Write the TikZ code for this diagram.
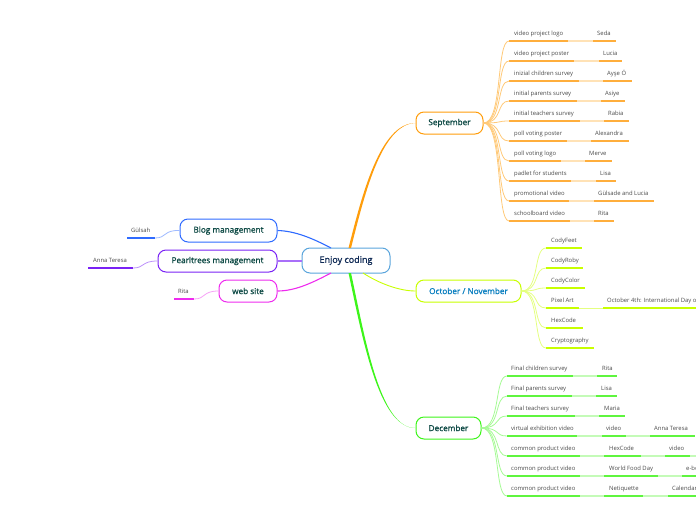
\documentclass[tikz,border=0pt]{standalone}
\usepackage{fontspec}
\setmainfont{Open Sans}
\newfontfamily\semif[FakeBold=1.2]{Open Sans}
\definecolor{orgA}{HTML}{FFAE3C}
\definecolor{orgM}{HTML}{FF9D0B}
\definecolor{orgL}{HTML}{FFC978}
\definecolor{orgP}{HTML}{FFE2B6}
\definecolor{yelA}{HTML}{C8FF00}
\definecolor{yelL}{HTML}{E4FF80}
\definecolor{grnA}{HTML}{5FF53F}
\definecolor{grnM}{HTML}{3DF51A}
\definecolor{grnL}{HTML}{A6FA95}
\definecolor{grnP}{HTML}{C4FBB8}
\definecolor{bluA}{HTML}{2F6BFF}
\definecolor{bluL}{HTML}{A0BBFF}
\definecolor{purA}{HTML}{7A22F5}
\definecolor{purL}{HTML}{BC90FA}
\definecolor{magA}{HTML}{EE2BEE}
\definecolor{magL}{HTML}{F6A0F6}
\definecolor{rootC}{HTML}{5AA5DC}
\definecolor{txtC}{HTML}{4A4A4A}
\definecolor{topC}{HTML}{0E4A45}
\definecolor{rootT}{HTML}{0F2A55}
\definecolor{octT}{HTML}{0A7FC0}
\tikzset{
  x=1pt,y=-1pt,
  topic/.style={draw,rounded corners=8pt,line width=1pt,inner sep=0pt,fill=white,font=\fontsize{8.2}{10}\selectfont\semif,text=topC},
  leaf/.style={anchor=base west,inner sep=0pt,text=txtC,font=\fontsize{5.9}{7}\selectfont},
  bar/.style={line width=1.8pt},
  twig/.style={line width=.8pt},
}
% \kid{col}{light}{name}{x0}{y}{x1}{text}{textx}
\newcommand{\kid}[8]{%
  \coordinate (#3s) at (#4,#5);
  \coordinate (#3e) at (#6,#5);
  \draw[bar,#1] (#3s) -- (#3e);
  \node[leaf] (#3t) at (#8,#5-6) {#7};
}
% \nxt{col}{light}{name}{prev}{x0}{y}{x1}{text}{textx}
\newcommand{\nxt}[9]{%
  \coordinate (#3s) at (#5,#6);
  \coordinate (#3e) at (#7,#6);
  \draw[bar,#2] (#4e) -- (#3s);
  \draw[bar,#1] (#3s) -- (#3e);
  \node[leaf] (#3t) at (#9,#6-6) {#8};
}
\begin{document}
\begin{tikzpicture}
\useasboundingbox (0,0) rectangle (696,520);
\clip (0,0) rectangle (696,520);
% main branch ends
\coordinate (mO) at (348.5,248); \coordinate (mOb) at (351,248);
\coordinate (mY) at (363,273); \coordinate (mG) at (348.5,273); \coordinate (mGb) at (351,273);
\coordinate (mB) at (331,248); \coordinate (mP) at (302,261); \coordinate (mM) at (331,273);
\node[topic,draw=rootC,minimum width=88pt,minimum height=25pt,font=\fontsize{9}{11}\selectfont\semif,text=rootT] (root) at (346,260.5) {Enjoy coding};
\node[topic,draw=orgM,minimum width=67pt,minimum height=22pt] (sep) at (449.5,123) {September};
\node[topic,draw=yelA,minimum width=105pt,minimum height=22pt,text=octT] (oct) at (468.5,291) {October / November};
\node[topic,draw=grnM,minimum width=65pt,minimum height=22pt] (dec) at (448.5,428) {December};
\node[topic,draw=bluA,minimum width=97pt,minimum height=23pt] (blog) at (228.5,230.5) {Blog management};
\node[topic,draw=purA,minimum width=119pt,minimum height=22pt] (pearl) at (217.5,261) {Pearltrees management};
\node[topic,draw=magA,minimum width=58pt,minimum height=22pt] (web) at (248,291) {web site};
\fill[orgM] (mO) .. controls (362,195) and (380,123) .. (sep.west) .. controls (381,124) and (364,197) .. (mOb) -- cycle;
\fill[grnM] (mG) .. controls (362,335) and (378,428) .. (dec.west) .. controls (379.5,429) and (364.5,335) .. (mGb) -- cycle;
\draw[line width=.9pt,yelA] (mY) .. controls (380,284) and (400,291) .. (oct.west);
\draw[line width=1.1pt,bluA] (mB) .. controls (312,238) and (295,231) .. (blog.east);
\draw[line width=1.4pt,purA!65] (mP) -- (pearl.east);
\draw[line width=1.1pt,magA] (mM) .. controls (312,283) and (295,291) .. (web.east);
% September
\kid{orgA}{}{s1}{509}{41}{568}{video project logo}{514}\nxt{orgA}{orgP}{s1b}{s1}{593}{41}{616}{Seda}{597}
\kid{orgA}{}{s2}{509}{61}{574}{video project poster}{514}\nxt{orgA}{orgP}{s2b}{s2}{599}{61}{622}{Lucia}{603}
\kid{orgA}{}{s3}{509}{81}{579}{inizial children survey}{514}\nxt{orgA}{orgP}{s3b}{s3}{603}{81}{632}{Ayşe Ö}{607}
\kid{orgA}{}{s4}{509}{101}{577}{initial parents survey}{514}\nxt{orgA}{orgP}{s4b}{s4}{601}{101}{625}{Asiye}{605}
\kid{orgA}{}{s5}{509}{121}{580}{initial teachers survey}{514}\nxt{orgA}{orgP}{s5b}{s5}{604}{121}{629}{Rabia}{608}
\kid{orgA}{}{s6}{509}{141}{567}{poll voting poster}{514}\nxt{orgA}{orgP}{s6b}{s6}{591}{141}{629}{Alexandra}{595}
\kid{orgA}{}{s7}{509}{161}{561}{poll voting logo}{514}\nxt{orgA}{orgP}{s7b}{s7}{585}{161}{612}{Merve}{589}
\kid{orgA}{}{s8}{509}{181}{571}{padlet for students}{514}\nxt{orgA}{orgP}{s8b}{s8}{596}{181}{616}{Lisa}{600}
\kid{orgA}{}{s9}{509}{201}{569}{promotional video}{514}\nxt{orgA}{orgP}{s9b}{s9}{594}{201}{654}{Gülsade and Lucia}{598}
\kid{orgA}{}{s10}{509}{221}{570}{schoolboard video}{514}\nxt{orgA}{orgP}{s10b}{s10}{594}{221}{614}{Rita}{598}
\foreach \k in {1,...,10}{\draw[twig,orgL] (sep.east) .. controls (503,123) and (496,0|-s\k s) .. (s\k s);}
% October
\kid{yelA}{}{o1}{546}{248}{582}{CodyFeet}{551}
\kid{yelA}{}{o2}{546}{268}{583}{CodyRoby}{551}
\kid{yelA}{}{o3}{546}{288}{585}{CodyColor}{551}
\kid{yelA}{}{o4}{546}{308}{579}{Pixel Art}{551}
\coordinate (o4bs) at (603,308); \coordinate (o4be) at (700,308);
\draw[twig,yelL] (o4e) -- (o4bs);
\draw[bar,yelA] (o4bs) -- (o4be);
\node[leaf] (o4bt) at (607,302) {October 4th: International Day of};
\kid{yelA}{}{o5}{546}{328}{583}{HexCode}{551}
\kid{yelA}{}{o6}{546}{348}{594}{Cryptography}{551}
\foreach \k in {1,...,6}{\draw[twig,yelL] (oct.east) .. controls (540,291) and (533,0|-o\k s) .. (o\k s);}
% December
\kid{grnA}{}{d1}{507}{376}{573}{Final children survey}{511}\nxt{grnA}{grnP}{d1b}{d1}{597}{376}{617}{Rita}{602}
\kid{grnA}{}{d2}{507}{396}{572}{Final parents survey}{511}\nxt{grnA}{grnP}{d2b}{d2}{596}{396}{617}{Lisa}{601}
\kid{grnA}{}{d3}{507}{416}{575}{Final teachers survey}{511}\nxt{grnA}{grnP}{d3b}{d3}{599}{416}{625}{Maria}{604}
\kid{grnA}{}{d4}{507}{436}{577}{virtual exhibition video}{511}\nxt{grnA}{grnP}{d4b}{d4}{602}{436}{626}{video}{606}\nxt{grnA}{grnP}{d4c}{d4b}{650}{436}{695}{Anna Teresa}{654}
\kid{grnA}{}{d5}{507}{456}{580}{common product video}{511}\nxt{grnA}{grnP}{d5b}{d5}{604}{456}{641}{HexCode}{609}\nxt{grnA}{grnP}{d5c}{d5b}{665}{456}{690}{video}{669}
\kid{grnA}{}{d6}{507}{476}{580}{common product video}{511}\nxt{grnA}{grnP}{d6b}{d6}{604}{476}{658}{World Food Day}{609}\nxt{grnA}{grnP}{d6c}{d6b}{682}{476}{700}{e-book}{686}
\kid{grnA}{}{d7}{507}{496}{580}{common product video}{511}\nxt{grnA}{grnP}{d7b}{d7}{604}{496}{643}{Netiquette}{609}\nxt{grnA}{grnP}{d7c}{d7b}{668}{496}{700}{Calendar}{672}
\coordinate (d5x) at (700,456); \draw[bar,grnP] (d5ce) -- (d5x);
\foreach \k in {1,...,7}{\draw[twig,grnL] (dec.east) .. controls (501,428) and (494,0|-d\k s) .. (d\k s);}
% left
\kid{bluA}{}{l1}{155}{238}{127}{Gülsah}{131}
\kid{purA}{}{l2}{133}{268}{88}{Anna Teresa}{93}
\kid{magA}{}{l3}{194}{299}{174}{Rita}{178}
\draw[twig,bluL] (blog.west) .. controls (163,230) and (167,238) .. (l1s);
\draw[twig,purL] (pearl.west) .. controls (141,261) and (145,268) .. (l2s);
\draw[twig,magL] (web.west) .. controls (202,291) and (206,299) .. (l3s);
\end{tikzpicture}
\end{document}
